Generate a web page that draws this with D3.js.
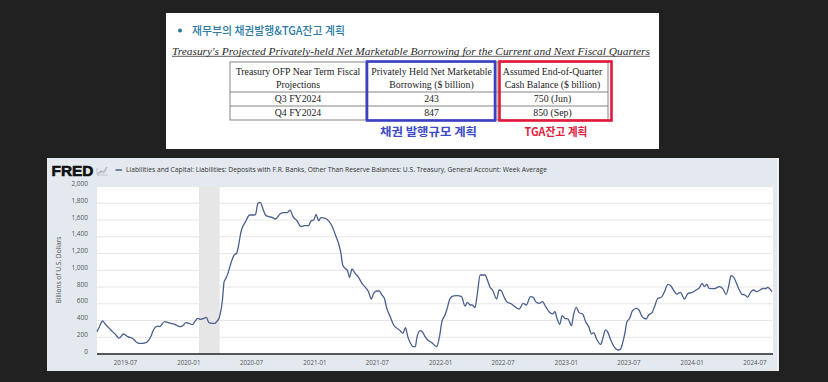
<!DOCTYPE html>
<html><head><meta charset="utf-8">
<script src="https://cdn.jsdelivr.net/npm/d3@7"></script>
<style>html,body{margin:0;padding:0;background:#212121;overflow:hidden} svg{display:block}</style>
</head><body>
<svg id="c" width="828" height="382"></svg>
<script>
// ---------------- DATA ----------------
const dates = [
"2019-04-11","2019-04-18","2019-04-27","2019-05-07","2019-05-17","2019-05-26","2019-06-05","2019-06-14","2019-06-27","2019-07-09",
"2019-07-23","2019-08-02","2019-08-11","2019-08-21","2019-08-31","2019-09-07","2019-09-14","2019-09-22","2019-09-29","2019-10-05",
"2019-10-11","2019-10-18","2019-10-25","2019-11-02","2019-11-11","2019-11-21","2019-11-30","2019-12-10","2019-12-18","2019-12-25",
"2020-01-03","2020-01-13","2020-01-20","2020-01-28","2020-02-06","2020-02-16","2020-02-22","2020-03-01","2020-03-11","2020-03-18",
"2020-03-23","2020-03-30","2020-04-09","2020-04-14","2020-04-19","2020-04-25","2020-05-05","2020-05-13","2020-05-20","2020-05-27",
"2020-06-01","2020-06-05","2020-06-15","2020-06-27","2020-07-09","2020-07-14","2020-07-21","2020-07-28","2020-08-04","2020-08-12",
"2020-08-21","2020-08-31","2020-09-10","2020-09-23","2020-10-04","2020-10-14","2020-10-22","2020-10-31","2020-11-12","2020-11-23",
"2020-12-03","2020-12-15","2020-12-22","2020-12-30","2021-01-06","2021-01-13","2021-01-20","2021-02-02","2021-02-13","2021-02-21",
"2021-03-03","2021-03-12","2021-03-19","2021-03-24","2021-03-31","2021-04-07","2021-04-13","2021-04-20","2021-04-29","2021-05-09",
"2021-05-19","2021-05-29","2021-06-07","2021-06-15","2021-06-22","2021-07-01","2021-07-08","2021-07-16","2021-07-23","2021-07-30",
"2021-08-09","2021-08-19","2021-08-29","2021-09-07","2021-09-15","2021-09-22","2021-09-29","2021-10-06","2021-10-14","2021-10-21",
"2021-10-25","2021-11-04","2021-11-12","2021-11-18","2021-11-28","2021-12-08","2021-12-15","2021-12-22","2021-12-30","2022-01-06",
"2022-01-15","2022-01-20","2022-01-30","2022-02-09","2022-02-20","2022-03-04","2022-03-14","2022-03-21","2022-03-29","2022-04-04",
"2022-04-12","2022-04-19","2022-04-27","2022-05-11","2022-05-18","2022-05-25","2022-06-02","2022-06-14","2022-06-21","2022-06-28",
"2022-07-03","2022-07-13","2022-07-27","2022-08-06","2022-08-18","2022-08-30","2022-09-08","2022-09-20","2022-09-28","2022-10-05",
"2022-10-15","2022-10-25","2022-11-03","2022-11-13","2022-11-23","2022-11-30","2022-12-06","2022-12-14","2022-12-21","2022-12-29",
"2023-01-07","2023-01-17","2023-01-23","2023-01-31","2023-02-08","2023-02-19","2023-02-27","2023-03-09","2023-03-16","2023-03-23",
"2023-03-30","2023-04-12","2023-04-18","2023-04-26","2023-05-03","2023-05-11","2023-05-22","2023-06-01","2023-06-08","2023-06-14",
"2023-06-21","2023-06-27","2023-07-05","2023-07-13","2023-07-24","2023-08-01","2023-08-10","2023-08-22","2023-08-29","2023-09-08",
"2023-09-15","2023-09-25","2023-10-05","2023-10-14","2023-10-24","2023-11-01","2023-11-09","2023-11-19","2023-11-29","2023-12-11",
"2023-12-21","2023-12-31","2024-01-14","2024-01-24","2024-01-31","2024-02-07","2024-02-14","2024-02-20","2024-03-07","2024-03-21",
"2024-03-31","2024-04-10","2024-04-18","2024-04-24","2024-05-02","2024-05-10","2024-05-18","2024-05-26","2024-06-04","2024-06-11",
"2024-06-21","2024-06-28","2024-07-07","2024-07-17","2024-07-27","2024-08-03","2024-08-08","2024-08-13","2024-08-21"
];
const values = [
267,326,394,346,306,267,227,190,239,207,
187,147,127,127,135,159,207,287,326,334,
326,366,386,378,366,358,338,326,346,374,
366,350,386,426,414,426,438,374,366,366,
386,426,645,864,903,963,1102,1182,1202,1321,
1441,1500,1580,1660,1660,1665,1799,1811,1739,1660,
1640,1632,1612,1672,1688,1688,1719,1640,1588,1520,
1532,1532,1588,1600,1668,1592,1628,1620,1580,1528,
1421,1321,1202,1063,1023,995,915,1015,963,915,
844,796,744,657,724,752,752,704,665,545,
446,346,306,279,247,314,207,135,88,88,
187,279,255,207,159,135,107,88,207,386,
466,525,665,693,697,685,573,617,585,585,
553,724,943,943,884,804,764,657,764,752,
704,625,597,565,537,605,585,685,677,625,
605,625,565,505,478,505,426,354,458,426,
418,338,466,557,494,474,386,318,239,255,
187,115,187,287,255,167,80,48,56,127,
247,386,426,517,545,525,446,418,466,494,
565,665,677,744,832,816,764,716,736,657,
724,732,764,796,844,804,832,784,780,804,
780,712,824,935,915,844,764,712,704,677,
744,764,744,764,784,780,796,784,744
];
const yTicks = [0,200,400,600,800,1000,1200,1400,1600,1800,2000];
const xTickLabels = ["2019-07","2020-01","2020-07","2021-01","2021-07","2022-01","2022-07","2023-01","2023-07","2024-01","2024-07"];
const recession = ["2020-02-01","2020-04-01"];
const seriesName = "Liabilities and Capital: Liabilities: Deposits with F.R. Banks, Other Than Reserve Balances: U.S. Treasury, General Account: Week Average";
const yTitle = "Billions of U.S. Dollars";

const panelTitle = "재무부의 채권발행&TGA잔고 계획";
const tableTitle = "Treasury's Projected Privately-held Net Marketable Borrowing for the Current and Next Fiscal Quarters";
const tableHeader = [["Treasury OFP Near Term Fiscal","Projections"],["Privately Held Net Marketable","Borrowing ($ billion)"],["Assumed End-of-Quarter","Cash Balance ($ billion)"]];
const tableRows = [["Q3 FY2024","243","750 (Jun)"],["Q4 FY2024","847","850 (Sep)"]];
const boxLabels = ["채권 발행규모 계획","TGA잔고 계획"];

// ---------------- DRAW ----------------
const svg = d3.select("#c");
svg.append("rect").attr("width",828).attr("height",382).attr("fill","#212121");

// ===== Top panel =====
const topG = svg.append("g");
topG.append("rect").attr("x",166).attr("y",13).attr("width",493).attr("height",136).attr("fill","#ffffff");
topG.append("circle").attr("cx",180).attr("cy",30.5).attr("r",2).attr("fill","#2a7aa3");
topG.append("text").attr("x",192).attr("y",34.8).text(panelTitle)
  .attr("font-family","'Noto Sans CJK KR', sans-serif").attr("font-weight",500).attr("font-size",11.5).attr("fill","#2a7aa3")
  .attr("textLength",153).attr("lengthAdjust","spacingAndGlyphs");
topG.append("text").attr("x",172).attr("y",54.5).text(tableTitle)
  .attr("font-family","'Liberation Serif', serif").attr("font-style","italic").attr("font-size",11.2).attr("fill","#2a2a2a")
  .attr("textLength",478).attr("lengthAdjust","spacingAndGlyphs");
topG.append("line").attr("x1",172).attr("x2",650).attr("y1",56.3).attr("y2",56.3).attr("stroke","#333").attr("stroke-width",0.8);

const colX = [230,366,497,608];
const rowY = [62,92,106,120];
const tg = topG.append("g").attr("stroke","#777").attr("stroke-width",0.9).attr("fill","none");
tg.append("rect").attr("x",colX[0]).attr("y",rowY[0]).attr("width",colX[3]-colX[0]).attr("height",rowY[3]-rowY[0]);
[1,2].forEach(i=>{
  tg.append("line").attr("x1",colX[i]).attr("x2",colX[i]).attr("y1",rowY[0]).attr("y2",rowY[3]);
  tg.append("line").attr("x1",colX[0]).attr("x2",colX[3]).attr("y1",rowY[i]).attr("y2",rowY[i]);
});
const serif = "'Liberation Serif', 'DejaVu Serif', serif";
tableHeader.forEach((lines,c)=>{
  const cx = (colX[c]+colX[c+1])/2;
  lines.forEach((s,k)=>{
    topG.append("text").attr("x",cx).attr("y",75+k*13.3).attr("text-anchor","middle").text(s)
      .attr("font-family",serif).attr("font-size",9.8).attr("fill","#222");
  });
});
tableRows.forEach((r,ri)=>{
  r.forEach((s,c)=>{
    const cx = (colX[c]+colX[c+1])/2;
    topG.append("text").attr("x",cx).attr("y",(rowY[ri+1]+rowY[ri+2])/2+3.4).attr("text-anchor","middle").text(s)
      .attr("font-family",serif).attr("font-size",9.8).attr("fill","#222");
  });
});
// highlight boxes
topG.append("rect").attr("x",367).attr("y",61.5).attr("width",128).attr("height",59).attr("fill","none").attr("stroke","#3b3fc4").attr("stroke-width",2.6);
topG.append("rect").attr("x",499.5).attr("y",61.5).attr("width",112).attr("height",59).attr("fill","none").attr("stroke","#e3173a").attr("stroke-width",2.6);
topG.append("text").attr("x",428.5).attr("y",135.5).attr("text-anchor","middle").text(boxLabels[0])
  .attr("font-family","'Noto Sans CJK KR', sans-serif").attr("font-weight","bold").attr("font-size",11).attr("fill","#3b48c8")
  .attr("textLength",97).attr("lengthAdjust","spacingAndGlyphs");
topG.append("text").attr("x",556).attr("y",135.5).attr("text-anchor","middle").text(boxLabels[1])
  .attr("font-family","'Noto Sans CJK KR', sans-serif").attr("font-weight","bold").attr("font-size",11).attr("fill","#e3203c")
  .attr("textLength",63).attr("lengthAdjust","spacingAndGlyphs");

// ===== FRED panel =====
const fp = svg.append("g");
fp.append("rect").attr("x",47).attr("y",158).attr("width",732).attr("height",213).attr("fill","#e3e9ef");
fp.append("line").attr("x1",777.5).attr("x2",777.5).attr("y1",158).attr("y2",371).attr("stroke","#f4f6f8").attr("stroke-width",1);

const left=97, right=772, yTop=186.5, yBot=354;
fp.append("rect").attr("x",left).attr("y",yTop).attr("width",right-left+1).attr("height",yBot-yTop).attr("fill","#ffffff");

const parse = d3.utcParse("%Y-%m-%d");
const data = dates.map((d,i)=>({date:parse(d), value:values[i]}));
const x = d3.scaleUtc().domain(d3.extent(data,d=>d.date)).range([left,right]);
const y = d3.scaleLinear().domain([0,2000]).range([yBot,yTop]);

// recession shading
fp.append("rect").attr("x",x(parse(recession[0]))).attr("y",yTop)
  .attr("width",x(parse(recession[1]))-x(parse(recession[0]))).attr("height",yBot-yTop).attr("fill","#e6e6e6");

// gridlines
fp.append("g").selectAll("line").data(yTicks.filter(v=>v>0)).join("line")
  .attr("x1",left).attr("x2",right).attr("y1",d=>y(d)).attr("y2",d=>y(d))
  .attr("stroke","#e6e6e6").attr("stroke-width",1);

// y axis
const yAxis = fp.append("g").attr("transform",`translate(${left-9},0)`)
  .call(d3.axisLeft(y).tickValues(yTicks).tickSize(0).tickPadding(0).tickFormat(d3.format(",")));
yAxis.select(".domain").remove();
yAxis.selectAll("text").attr("y",-3).attr("font-family","'Open Sans', sans-serif").attr("font-size",6.5).attr("fill","#555");

// x axis
const xParse = d3.utcParse("%Y-%m");
const xAxis = fp.append("g").attr("transform",`translate(0,${yBot})`)
  .call(d3.axisBottom(x).tickValues(xTickLabels.map(xParse)).tickSize(0).tickPadding(7).tickFormat(d3.utcFormat("%Y-%m")));
xAxis.select(".domain").remove();
xAxis.selectAll("text").attr("font-family","'Open Sans', sans-serif").attr("font-size",6.2).attr("fill","#555");
fp.append("line").attr("x1",left).attr("x2",right+1).attr("y1",yBot).attr("y2",yBot).attr("stroke","#222").attr("stroke-width",1.5);

// y title
fp.append("text").attr("transform",`translate(61,270) rotate(-90)`).attr("text-anchor","middle").text(yTitle)
  .attr("font-family","'Open Sans', sans-serif").attr("font-size",6.3).attr("fill","#555")
  .attr("textLength",67).attr("lengthAdjust","spacingAndGlyphs");

// series line
const lineColor = "#4a5f8e";
fp.append("path").datum(data)
  .attr("d", d3.line().x(d=>x(d.date)).y(d=>y(d.value)).curve(d3.curveMonotoneX))
  .attr("fill","none").attr("stroke",lineColor).attr("stroke-width",1.3).attr("stroke-linejoin","round");

// header: FRED logo, icon, legend
fp.append("text").attr("x",51.5).attr("y",175.8).text("FRED")
  .attr("font-family","'Liberation Sans', Arial, sans-serif").attr("font-weight","bold").attr("font-size",15).attr("fill","#111")
  .attr("stroke","#111").attr("stroke-width",0.6)
  .attr("textLength",42).attr("lengthAdjust","spacingAndGlyphs");
const icon = fp.append("g");
icon.append("path").attr("d","M97,175 L108,175 M97,175 L97,168").attr("stroke","#b8bcc2").attr("stroke-width",0.8).attr("fill","none");
icon.append("path").attr("d","M98,174 L101,171 L103,172.5 L107,167").attr("stroke","#a8adb5").attr("stroke-width",1.2).attr("fill","none");
icon.append("path").attr("d","M98,174 L101,172.5 L104,173 L107,170").attr("stroke","#c8ccd1").attr("stroke-width",1).attr("fill","none");
fp.append("line").attr("x1",115.5).attr("x2",122).attr("y1",170).attr("y2",170).attr("stroke",lineColor).attr("stroke-width",1.5);
fp.append("text").attr("x",126).attr("y",172.3).text(seriesName)
  .attr("font-family","'Open Sans', sans-serif").attr("font-size",6.3).attr("fill","#333")
  .attr("textLength",421).attr("lengthAdjust","spacingAndGlyphs");
</script>
</body></html>
